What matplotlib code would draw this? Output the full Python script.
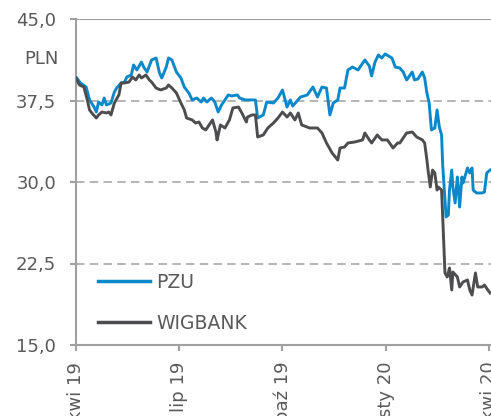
import matplotlib
matplotlib.use("Agg")
import matplotlib.pyplot as plt
import pandas as pd

start = pd.Timestamp("2019-04-01")

pzu_days = [0, 4, 9, 12, 16, 18, 20, 23, 25, 27, 31, 34, 36, 40, 43, 45, 49, 51, 54, 58,
            60, 63, 67, 71, 74, 76, 80, 82, 85, 89, 93, 96, 100, 103, 107, 111, 113, 116,
            120, 123, 126, 129, 135,
            138, 143, 145, 150, 154, 159, 161, 166, 169, 175, 179, 183, 187, 190, 192, 199,
            205, 210, 214, 218, 222, 225, 228, 232, 234, 238, 241, 245, 250, 256, 260, 262,
            265, 268, 271, 274, 280, 283, 287, 290, 293, 298, 300, 303, 307, 309, 311, 313,
            315, 318, 320, 322, 324, 325, 328, 330, 331, 333, 334, 336, 338, 339, 340, 342,
            343, 347, 349, 351, 352, 355, 360, 362, 364, 367]
pzu_values = [39.66, 39.11, 38.74, 37.55, 36.90, 36.44, 37.36, 37.09, 37.73, 37.09, 37.27,
              38.28, 38.65, 39.11, 39.20, 39.66, 39.85, 40.77, 40.31, 41.04, 40.58, 40.12,
              41.23, 41.41, 40.03, 39.57, 40.58, 41.41, 41.23, 40.12, 39.57, 38.74, 38.19,
              37.55, 37.73, 37.36, 37.73, 37.36, 37.73, 37.36, 36.44, 37.09, 38.01,
              37.92, 38.01, 37.73, 37.55, 37.55, 37.55,
              35.89, 36.17, 37.36, 37.27, 37.73, 38.47, 36.90, 37.55, 36.99, 37.82, 38.01,
              38.74, 37.82, 38.74, 38.65, 36.17, 37.27, 37.55, 38.65, 38.65, 40.31, 40.58,
              40.31, 41.23, 40.67, 39.76, 41.04, 41.69, 41.41, 41.78, 41.41, 40.58, 40.49,
              40.12, 39.39, 40.12, 39.39, 39.48, 40.12, 39.57, 38.19, 37.27, 34.79, 34.97,
              36.63, 35.06, 34.33, 31.56, 26.78, 26.96, 29.26, 31.10, 29.54, 28.07, 30.46,
              29.26, 27.70, 30.46, 29.91, 31.29, 30.83, 31.29, 29.26, 28.99, 28.99, 29.08,
              30.83, 31.10]

wig_days = [0, 3, 7, 10, 12, 14, 18, 20, 23, 27, 29, 31, 34, 38, 40, 43, 47, 50, 53, 56,
            58, 62, 65, 67, 71, 75, 80, 82, 85, 89, 93, 96, 98, 103, 106, 109, 112, 115,
            118, 121, 124, 125, 128, 132, 136,
            139, 144, 147, 151, 152, 156, 159, 161, 166, 170, 175, 179, 183, 187, 190, 194,
            197, 200, 207, 214, 218, 222, 227, 232, 234, 238, 241, 247, 254, 256, 260, 262,
            267, 271, 276, 281, 285, 287, 293, 298, 302, 307, 309, 311, 312, 314, 316, 318,
            320, 321, 324, 325, 327, 329, 331, 333, 334, 338, 340, 343, 347, 349, 351, 354,
            356, 360, 362, 365, 367]
wig_values = [39.57, 38.93, 38.74, 37.55, 36.63, 36.35, 35.89, 36.17, 36.44, 36.35, 36.44,
              36.17, 37.27, 38.01, 39.11, 39.11, 39.20, 39.66, 39.39, 39.85, 39.57, 39.85,
              39.39, 39.20, 38.65, 38.47, 38.65, 38.93, 38.65, 38.19, 37.27, 36.63, 35.89,
              35.71, 35.43, 35.52, 34.97, 34.79, 35.25, 35.71, 34.60, 33.87, 35.25, 34.97,
              35.71, 36.81, 36.90, 36.35, 35.52, 35.98, 36.17, 36.17,
              34.14, 34.33, 34.97, 35.43, 35.89, 36.44, 35.98, 36.35, 35.71, 36.35, 35.25,
              34.97, 34.97, 34.51, 33.59, 32.67, 32.02, 33.13, 33.22, 33.59, 33.68, 33.87,
              34.51, 33.87, 33.59, 34.33, 33.87, 33.87, 33.13, 33.59, 33.59, 34.51, 34.60,
              34.14, 33.87, 33.59, 32.02, 31.10, 29.54, 31.10, 30.83, 29.26, 29.54, 29.26,
              26.78, 21.63, 21.26, 22.09, 20.06, 21.72, 21.26, 20.34, 20.80, 20.98, 20.06,
              19.60, 21.63, 20.34, 20.34, 20.52, 20.06, 19.79]

series_names = ["PZU", "WIGBANK"]
y_ticks = [15.0, 22.5, 30.0, 37.5, 45.0]
y_tick_labels = ["15,0", "22,5", "30,0", "37,5", "45,0"]
x_tick_dates = ["2019-04-01", "2019-07-01", "2019-10-01", "2020-01-01", "2020-04-01"]
x_tick_labels = ["kwi 19", "lip 19", "paź 19", "sty 20", "kwi 20"]
unit_label = "PLN"

BLUE = "#0A88CA"
DARK = "#4D4D4F"
GRID = "#A0A0A0"
TXT = "#595959"

plt.rcParams['font.family'] = ['DejaVu Sans']

fig = plt.figure(figsize=(4.91, 4.16), dpi=100)
ax = fig.add_axes([76/491, 1-345/416, 1-76/491, (345-19)/416])

pzu_dates = start + pd.to_timedelta(pzu_days, unit="D")
wig_dates = start + pd.to_timedelta(wig_days, unit="D")

for yv in [22.5, 30.0, 37.5]:
    ax.axhline(yv, color=GRID, lw=1.1, dashes=(5.5, 3.5), zorder=1)
ax.axhline(45.0, color=GRID, lw=1.5, zorder=1)

ax.plot(wig_dates, wig_values, color=DARK, lw=2.1, label=series_names[1], zorder=3,
        solid_joinstyle="round")
ax.plot(pzu_dates, pzu_values, color=BLUE, lw=2.1, label=series_names[0], zorder=2,
        solid_joinstyle="round")

ax.set_ylim(15, 45)
ax.set_xlim(start, start + pd.Timedelta(days=367.8))
ax.set_yticks(y_ticks)
ax.set_yticklabels(y_tick_labels)
ax.set_xticks(pd.to_datetime(x_tick_dates))
ax.set_xticklabels(x_tick_labels, rotation=90, va="top", ha="center")

for s in ["top", "right"]:
    ax.spines[s].set_visible(False)
for s in ["left", "bottom"]:
    ax.spines[s].set_color(GRID)
    ax.spines[s].set_linewidth(1.5)
ax.tick_params(axis="y", colors=GRID, labelcolor=TXT, labelsize=13, length=4.3, width=1.5, pad=10)
ax.tick_params(axis="x", colors=GRID, labelcolor=TXT, labelsize=13, length=4, width=1.5, pad=8)

ax.text(-0.043, 41.3, unit_label, transform=ax.get_yaxis_transform(), ha="right", va="center",
        fontsize=13, color=TXT)

handles, labels = ax.get_legend_handles_labels()
order = [1, 0]
leg = ax.legend([handles[i] for i in order], [labels[i] for i in order],
                loc="upper left", bbox_to_anchor=((98-76)/415, (345-273)/326),
                borderaxespad=0, borderpad=0, frameon=False,
                fontsize=13.5, handlelength=2.77, handletextpad=0.32, labelspacing=1.15,
                labelcolor=TXT)
for line in leg.get_lines():
    line.set_linewidth(2.5)

fig.savefig("out.png", dpi=100)
